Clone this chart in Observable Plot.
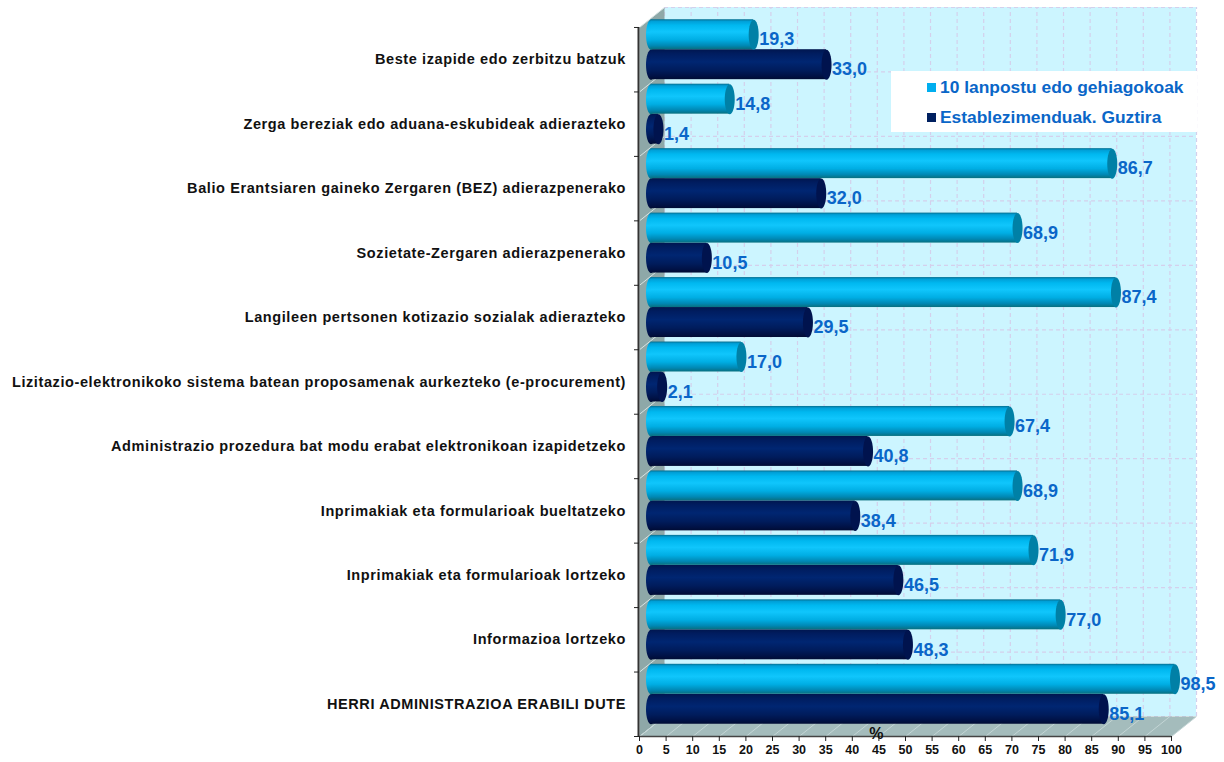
<!DOCTYPE html>
<html><head><meta charset="utf-8">
<script src="https://cdn.jsdelivr.net/npm/d3@7"></script>
<script src="https://cdn.jsdelivr.net/npm/@observablehq/plot@0.6"></script>
<style>
html,body{margin:0;padding:0;background:#fff;}
#wrap{position:relative;width:1224px;height:762px;overflow:hidden;}
#legend{position:absolute;left:891px;top:71px;width:306px;height:61px;background:#fff;font:bold 17.4px "Liberation Sans",Arial,sans-serif;color:#0a66c8;}
#legend div{position:absolute;left:36px;white-space:nowrap;line-height:18px;}
#legend i{display:inline-block;width:9px;height:9px;margin-right:4px;vertical-align:1px;}
</style></head><body><div id="wrap"><div id="legend">
<div style="top:7px"><i style="background:#00aeef"></i>10 lanpostu edo gehiagokoak</div>
<div style="top:37px"><i style="background:#002060"></i>Establezimenduak. Guztira</div>
</div></div>
<script>
const categories = [
 "HERRI ADMINISTRAZIOA ERABILI DUTE",
 "Informazioa lortzeko",
 "Inprimakiak eta formularioak lortzeko",
 "Inprimakiak eta formularioak bueltatzeko",
 "Administrazio prozedura bat modu erabat elektronikoan izapidetzeko",
 "Lizitazio-elektronikoko sistema batean proposamenak aurkezteko (e-procurement)",
 "Langileen pertsonen kotizazio sozialak adierazteko",
 "Sozietate-Zergaren adierazpenerako",
 "Balio Erantsiaren gaineko Zergaren (BEZ) adierazpenerako",
 "Zerga bereziak edo aduana-eskubideak adierazteko",
 "Beste izapide edo zerbitzu batzuk"
];
const large = [98.5,77.0,71.9,68.9,67.4,17.0,87.4,68.9,86.7,14.8,19.3];
const total = [85.1,48.3,46.5,38.4,40.8,2.1,29.5,10.5,32.0,1.4,33.0];
const xTicks = d3.range(0,101,5);
const yTicks = d3.range(0,12);
const depthX = 4.7, depthY = 0.31, xMax = 105, yN = categories.length;
const fmt = v => v.toFixed(1).replace(".",",");
const rows = categories.flatMap((c,i)=>[
  {i,c,v:large[i],lo:i+0.5,hi:i+0.5+0.465,s:"a"},
  {i,c,v:total[i],lo:i+0.5-0.465,hi:i+0.5,s:"b"}
]);
const rowsA = rows.filter(d=>d.s==="a"), rowsB = rows.filter(d=>d.s==="b");
const ellipse = {draw(c){
  const rx=5, ry=15, kx=rx*0.5523, ky=ry*0.5523;
  c.moveTo(-rx,0);
  c.bezierCurveTo(-rx,-ky,-kx,-ry,0,-ry);
  c.bezierCurveTo(kx,-ry,rx,-ky,rx,0);
  c.bezierCurveTo(rx,ky,kx,ry,0,ry);
  c.bezierCurveTo(-kx,ry,-rx,ky,-rx,0);
  c.closePath();
}};
function grad(id,stops){
  return `<linearGradient id="${id}" x1="0" y1="0" x2="0" y2="1">`+stops.map(([o,c])=>`<stop offset="${o}" stop-color="${c}"/>`).join("")+`</linearGradient>`;
}
const defs = () => {
  const g=document.createElementNS("http://www.w3.org/2000/svg","defs");
  g.innerHTML = grad("ga",[[0,"#056f90"],[0.07,"#00a0d8"],[0.2,"#00b8f0"],[0.42,"#10c6fc"],[0.68,"#00aee4"],[0.88,"#0088b4"],[1,"#08707f"]])
    + grad("gb",[[0,"#00164f"],[0.15,"#001d60"],[0.42,"#002672"],[0.7,"#001c5c"],[0.9,"#001144"],[1,"#000c34"]]);
  return g;
};
const bx=11.5, by=-10;
function barMarks(d,gid,cap){
  return [
    Plot.dot(d,{x:()=>0,y:r=>(r.lo+r.hi)/2,symbol:ellipse,fill:`url(#${gid})`,stroke:"none",dx:bx,dy:by}),
    Plot.rect(d,{x1:()=>0,x2:"v",y1:"lo",y2:"hi",fill:`url(#${gid})`,dx:bx,dy:by}),
    Plot.dot(d,{x:"v",y:r=>(r.lo+r.hi)/2,symbol:ellipse,fill:cap,stroke:"none",dx:bx,dy:by})
  ];
}
const leftWall=[{x:0,y:0},{x:depthX,y:depthY},{x:depthX,y:yN+depthY},{x:0,y:yN},{x:0,y:0}];
const floor=[{x:0,y:0},{x:depthX,y:depthY},{x:100+depthX,y:depthY},{x:100,y:0},{x:0,y:0}];
const grid={stroke:"#d4d0ec",strokeWidth:1.2,strokeDasharray:"4 3"};
const chart = Plot.plot({
  width:1224,height:762,marginLeft:639,marginRight:26.4,marginTop:7,marginBottom:26,
  x:{domain:[0,xMax],label:null},
  y:{domain:[0,yN+depthY],label:null},
  style:{background:"transparent",fontFamily:"'Liberation Sans',Arial,sans-serif",fontWeight:"bold",color:"#111"},
  marks:[
    defs,
    Plot.rect([0],{x1:depthX,x2:100+depthX,y1:depthY,y2:yN+depthY,fill:"#ccf5ff"}),
    Plot.ruleY(yTicks,{x1:depthX,x2:100+depthX,y:d=>d+depthY,...grid}),
    Plot.ruleX(xTicks,{x:d=>d+depthX,y1:depthY,y2:yN+depthY,...grid}),
    Plot.line(leftWall,{x:"x",y:"y",fill:"#8ea8a8",stroke:"none"}),
    Plot.line(floor,{x:"x",y:"y",fill:"#a4bcbc",stroke:"none"}),
    Plot.link(yTicks,{x1:()=>0,y1:d=>d,x2:()=>depthX,y2:d=>d+depthY,stroke:"#d6e4e4",strokeWidth:1}),
    Plot.link(xTicks,{x1:d=>d,y1:()=>0,x2:d=>d+depthX,y2:()=>depthY,stroke:"#c4d6d6",strokeWidth:1}),
    Plot.ruleX([0],{y1:0,y2:yN,stroke:"#333",strokeWidth:2,dx:-1}),
    Plot.ruleY([0],{x1:0,x2:100,stroke:"#444",strokeWidth:1.5}),
    Plot.axisX({ticks:xTicks,tickSize:5,tickPadding:4,fontSize:12.5,fontWeight:"bold",label:null,tickFormat:d=>d,stroke:"#222"}),
    Plot.axisY({ticks:yTicks,tickSize:5,tickFormat:()=>"",label:null,stroke:"#222"}),
    ...barMarks(rowsB,"gb","#00134e"),
    ...barMarks(rowsA,"ga","#0080a6"),
    Plot.text(rows,{x:"v",y:r=>(r.lo+r.hi)/2,text:r=>fmt(r.v),textAnchor:"start",dx:bx+5.5,dy:by+5,fontSize:18,fontWeight:"bold",fill:"#0a66c8"}),
    Plot.text(categories,{x:()=>0,y:(d,i)=>i+0.5,text:d=>d,textAnchor:"end",dx:-13.5,fontSize:14.5,fontWeight:"bold",fill:"#111",style:"letter-spacing:0.6px"}),
    Plot.text(["%"],{x:()=>44.5,y:()=>0,text:d=>d,fontSize:16,fontWeight:"bold",fill:"#111",dy:-3})
  ]
});
chart.querySelectorAll("text").forEach(t=>{ if(categories.includes(t.textContent)) t.style.letterSpacing="0.6px"; });
document.getElementById("wrap").prepend(chart);
chart.style.position="absolute";chart.style.left="0";chart.style.top="0";
document.getElementById("legend").style.zIndex=2;
</script></body></html>
